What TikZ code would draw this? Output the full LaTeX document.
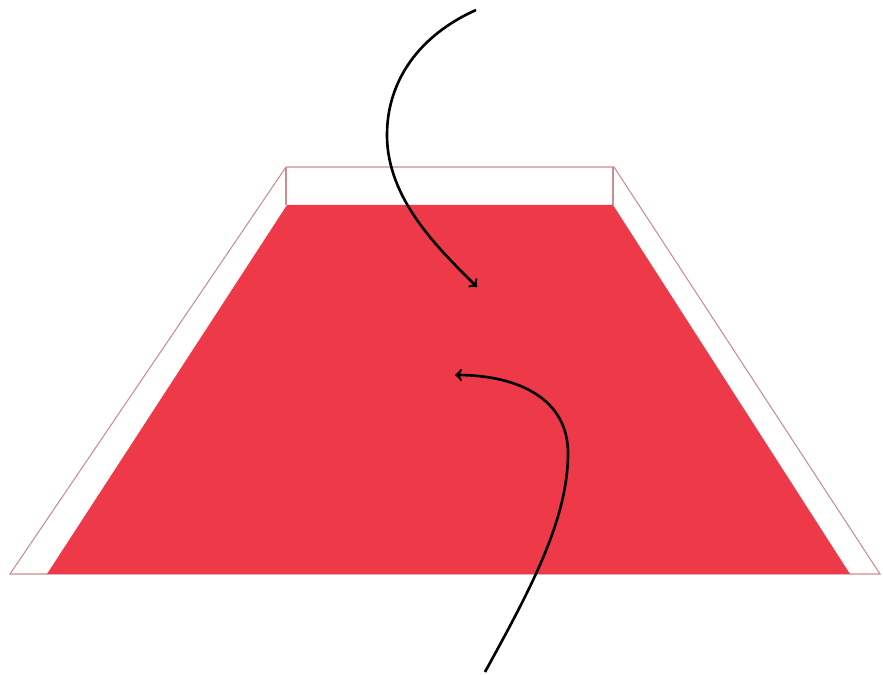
\documentclass[tikz,border=0pt]{standalone}
\usepackage{tikz}
\definecolor{trayred}{RGB}{238,58,72}
\definecolor{trayedge}{RGB}{205,140,145}

\begin{document}
\begin{tikzpicture}[x=0.02cm, y=-0.02cm,
    wall/.style={draw=trayedge, line width=0.6pt},
    floor/.style={fill=trayred},
    flow/.style={->, line width=1.5pt, black}]
    \useasboundingbox (0,0) rectangle (883,675);

    % Draw the tray outline (walls)
    \draw[wall] (286,167) -- (614,167) -- (880,574) -- (10,574) -- cycle;
    \draw[wall] (286,167) -- (286,205);
    \draw[wall] (613,167) -- (613,205);

    % Draw the red floor
    \fill[floor] (287,205) -- (613,205) -- (850,574) -- (47,574) -- cycle;

    % Arrow ends
    \coordinate (inStart) at (476,10);
    \coordinate (inEnd) at (477,287);
    \coordinate (outStart) at (485,672);
    \coordinate (outEnd) at (455,375);

    % Draw the two curved arrows
    \draw[flow] (inStart) .. controls (420,35) and (387,80) .. (387,135)
        .. controls (387,200) and (440,250) .. (inEnd);
    \draw[flow] (outStart) .. controls (530,590) and (568,520) .. (568,453)
        .. controls (568,400) and (520,375) .. (outEnd);

\end{tikzpicture}
\end{document}
